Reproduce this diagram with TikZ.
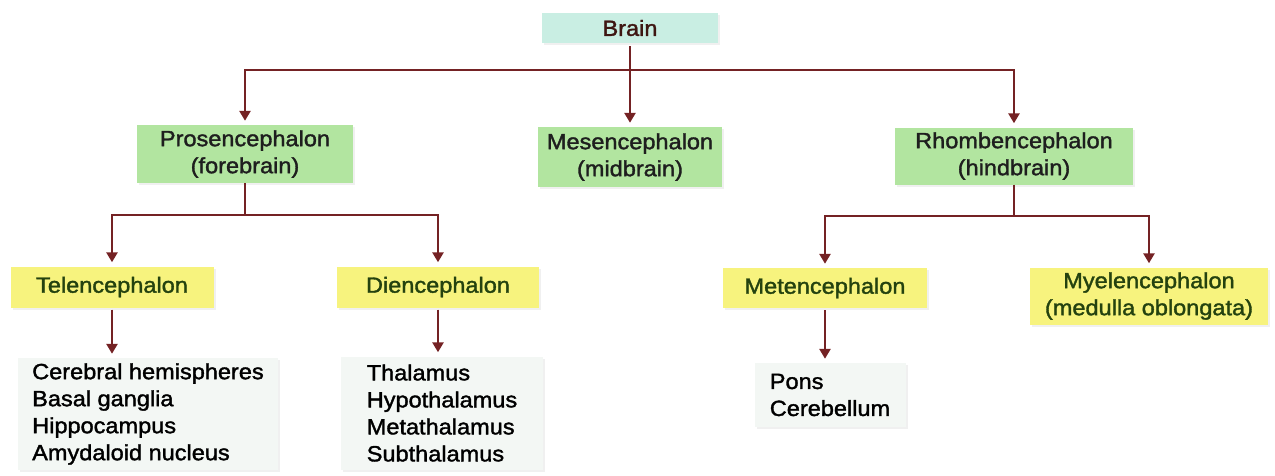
\documentclass[tikz,border=0pt]{standalone}
\usepackage{fontspec}
\setmainfont{Liberation Sans}[FakeStretch=1.07, FakeBold=1.6]
\usetikzlibrary{shadows,arrows.meta}
\definecolor{lncol}{HTML}{742224}
\definecolor{greenfill}{HTML}{B2E5A0}
\definecolor{yellowfill}{HTML}{F7F37E}
\definecolor{tealfill}{HTML}{C9EEE3}
\definecolor{listfill}{HTML}{F3F7F4}
\definecolor{braintext}{HTML}{3E1612}
\definecolor{yellowtext}{HTML}{24420F}
\definecolor{greentext}{HTML}{1E1E1E}
\begin{document}
\begin{tikzpicture}[x=1pt,y=-1pt,
  font=\fontsize{22}{27}\selectfont,
  box/.style={draw=none, inner sep=0pt, align=center,
    drop shadow={opacity=0.12, shadow xshift=2pt, shadow yshift=-2pt}},
  brainbox/.style={box, fill=tealfill, text=braintext},
  greenbox/.style={box, fill=greenfill, text=greentext},
  yellowbox/.style={box, fill=yellowfill, text=yellowtext},
  listbox/.style={box, fill=listfill, text=black, align=left},
  ln/.style={draw=lncol, line width=2.6pt},
  arr/.style={ln, -{Triangle[length=10pt,width=11pt]}, shorten >=4pt},
]
\useasboundingbox (0,0) rectangle (1275,475);

% nodes
\node[brainbox, minimum width=176pt, minimum height=30pt] (brain) at (630,28) {Brain};

\node[greenbox, minimum width=216pt, minimum height=58pt] (pros) at (245,154) {Prosencephalon\\(forebrain)};
\node[greenbox, minimum width=184pt, minimum height=60pt] (mes) at (630,157) {Mesencephalon\\(midbrain)};
\node[greenbox, minimum width=238pt, minimum height=57pt] (rhomb) at (1014,156) {Rhombencephalon\\(hindbrain)};

\node[yellowbox, minimum width=203pt, minimum height=41pt] (tel) at (112,287) {Telencephalon};
\node[yellowbox, minimum width=202pt, minimum height=41pt] (dien) at (438,287) {Diencephalon};
\node[yellowbox, minimum width=204pt, minimum height=40pt] (met) at (825,288) {Metencephalon};
\node[yellowbox, minimum width=238pt, minimum height=57pt] (myel) at (1149,296) {Myelencephalon\\(medulla oblongata)};

\node[listbox, minimum width=260pt, minimum height=112pt] (tellist) at (148,414)
  {Cerebral hemispheres\\Basal ganglia\\Hippocampus\\Amydaloid nucleus};
\node[listbox, minimum width=202pt, minimum height=113pt] (dienlist) at (442,413)
  {Thalamus\\Hypothalamus\\Metathalamus\\Subthalamus};
\node[listbox, minimum width=151pt, minimum height=64pt] (ponslist) at (830,395)
  {Pons\\Cerebellum};

% junctions
\coordinate (b1) at (630,70);
\coordinate (p1) at (245,215);
\coordinate (r1) at (1014,216);

% connectors
\draw[ln, shorten <=3pt] (brain) -- (b1);
\draw[arr] (b1) -| (pros);
\draw[arr] (b1) -- (mes);
\draw[arr] (b1) -| (rhomb);

\draw[ln] (pros) -- (p1);
\draw[arr] (p1) -| (tel);
\draw[arr] (p1) -| (dien);

\draw[ln] (rhomb) -- (r1);
\draw[arr] (r1) -| (met);
\draw[arr] (r1) -| (myel);

\draw[arr, shorten <=2pt] (tel.south) -- (tel.south |- tellist.north);
\draw[arr, shorten <=2pt] (dien.south) -- (dien.south |- dienlist.north);
\draw[arr, shorten <=2pt] (met.south) -- (met.south |- ponslist.north);
\end{tikzpicture}
\end{document}
